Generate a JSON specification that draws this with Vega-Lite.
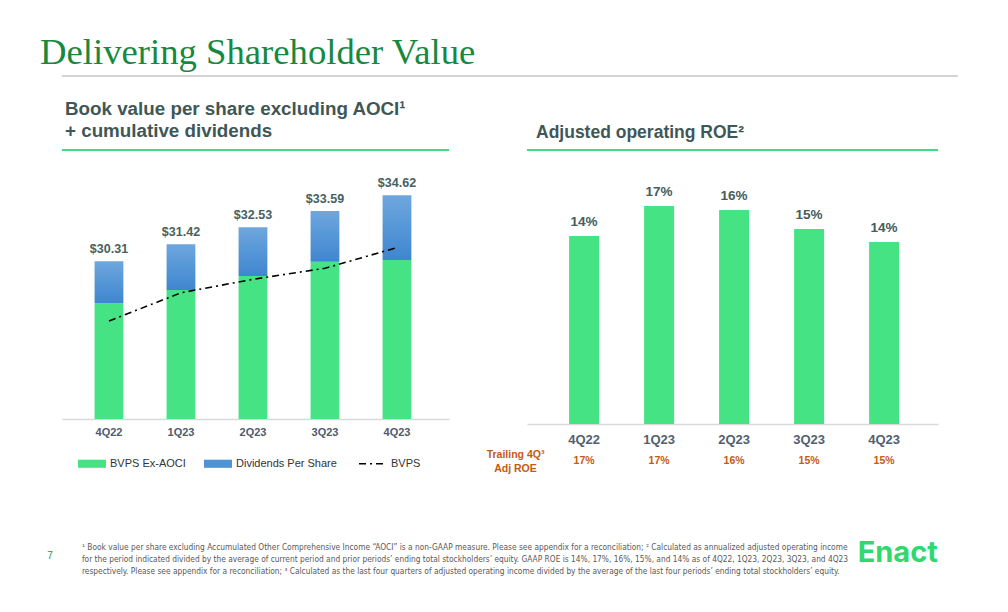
{
  "$schema": "https://vega.github.io/schema/vega-lite/v6.json",
  "background": "white",
  "padding": {"left": 40, "top": 35, "right": 10, "bottom": 5},
  "config": {"view": {"stroke": null}, "font": "Liberation Sans"},
  "title": {"text": "Delivering Shareholder Value", "anchor": "start", "frame": "group", "dx": -22, "font": "Liberation Serif", "fontSize": 36.7, "fontWeight": "normal", "color": "#17893f", "offset": 3},
  "datasets": {
    "bvps": [
      {"q": "4Q22", "exaoci": 27.56, "total": 30.31, "bvps": 26.4},
      {"q": "1Q23", "exaoci": 28.43, "total": 31.42, "bvps": 28.25},
      {"q": "2Q23", "exaoci": 29.35, "total": 32.53, "bvps": 29.13},
      {"q": "3Q23", "exaoci": 30.28, "total": 33.59, "bvps": 29.85},
      {"q": "4Q23", "exaoci": 30.39, "total": 34.62, "bvps": 31.2}
    ],
    "roe": [
      {"q": "4Q22", "roe": 0.1435, "trailing": 0.17},
      {"q": "1Q23", "roe": 0.1664, "trailing": 0.17},
      {"q": "2Q23", "roe": 0.1634, "trailing": 0.16},
      {"q": "3Q23", "roe": 0.1489, "trailing": 0.15},
      {"q": "4Q23", "roe": 0.1389, "trailing": 0.15}
    ],
    "notes": [
      {"line": 1, "text": "¹ Book value per share excluding Accumulated Other Comprehensive Income “AOCI” is a non-GAAP measure. Please see appendix for a reconciliation; ² Calculated as annualized adjusted operating income"},
      {"line": 2, "text": "for the period indicated divided by the average of current period and prior periods’ ending total stockholders’ equity. GAAP ROE is 14%, 17%, 16%, 15%, and 14% as of 4Q22, 1Q23, 2Q23, 3Q23, and 4Q23"},
      {"line": 3, "text": "respectively. Please see appendix for a reconciliation; ³ Calculated as the last four quarters of adjusted operating income divided by the average of the last four periods’ ending total stockholders’ equity."}
    ]
  },
  "spacing": 64,
  "resolve": {"scale": {"color": "independent"}, "legend": {"color": "independent"}},
  "vconcat": [
    {
      "spacing": 23,
      "resolve": {"scale": {"color": "independent"}, "legend": {"color": "independent"}},
      "vconcat": [
        {
          "width": 896, "height": 1,
          "data": {"values": [{}]},
          "mark": {"type": "rule", "color": "#d4d4d4", "strokeWidth": 2},
          "encoding": {"y": {"datum": 0, "type": "quantitative", "scale": {"domain": [0, 1]}, "axis": null}}
        },
        {
          "spacing": 78,
          "bounds": "flush",
          "resolve": {"scale": {"color": "independent"}, "legend": {"color": "independent"}},
          "hconcat": [
            {
              "width": 387, "height": 269,
              "title": {"text": ["Book value per share excluding AOCI¹", "+ cumulative dividends"], "anchor": "start", "frame": "group", "dx": 3, "fontSize": 18.8, "fontWeight": "bold", "color": "#3f5757", "lineHeight": 22, "offset": 8},
              "data": {"name": "bvps"},
              "layer": [
                {
                  "mark": {"type": "bar", "color": "#45e383"},
                  "encoding": {
                    "x": {"field": "q", "type": "nominal", "sort": null,
                      "scale": {"paddingInner": 0.6, "paddingOuter": 0.4875, "align": 0.464},
                      "axis": {"title": null, "labelAngle": 0, "ticks": false, "labelPadding": 7, "labelFontSize": 11, "labelFontWeight": "bold", "labelColor": "#4e5b70", "domainColor": "#d9d9d9", "domainWidth": 1.5}},
                    "y": {"field": "exaoci", "type": "quantitative", "scale": {"domain": [20, 37.58], "zero": false, "nice": false}, "axis": null},
                    "y2": {"datum": 20},
                    "color": {"datum": "BVPS Ex-AOCI", "type": "nominal",
                      "scale": {"domain": ["BVPS Ex-AOCI", "Dividends Per Share", "BVPS"], "range": ["#45e383", "#4f93d6", "#000000"]},
                      "legend": {
                        "title": null, "orient": "none", "direction": "horizontal", "legendX": 16, "legendY": 308,
                        "labelFont": "Liberation Sans", "labelFontSize": 11, "labelColor": "#333333",
                        "symbolSize": 784, "columnPadding": 18,
                        "encode": {
                          "symbols": {"update": {
                            "x": {"value": 14},
                            "shape": {"signal": "datum.value === 'BVPS' ? 'stroke' : 'M-1,-0.29H1V0.29H-1Z'"},
                            "size": {"value": 784},
                            "fill": {"signal": "datum.value === 'BVPS' ? 'transparent' : (datum.value === 'BVPS Ex-AOCI' ? '#45e383' : '#4f93d6')"},
                            "stroke": {"signal": "datum.value === 'BVPS' ? '#000000' : 'transparent'"},
                            "strokeWidth": {"signal": "datum.value === 'BVPS' ? 1.6 : 0"},
                            "strokeDash": {"signal": "datum.value === 'BVPS' ? [7,4,2,4] : []"}
                          }},
                          "labels": {"update": {"x": {"value": 32}}}
                        }
                      }
                    }
                  }
                },
                {
                  "mark": {"type": "bar", "fill": {"gradient": "linear", "x1": 0, "y1": 0, "x2": 0, "y2": 1, "stops": [{"offset": 0, "color": "#6ea7de"}, {"offset": 1, "color": "#3f86cf"}]}},
                  "encoding": {
                    "x": {"field": "q", "type": "nominal", "sort": null},
                    "y": {"field": "total", "type": "quantitative"},
                    "y2": {"field": "exaoci"}
                  }
                },
                {
                  "mark": {"type": "line", "strokeWidth": 1.6, "strokeDash": [7, 4, 2, 4]},
                  "encoding": {
                    "x": {"field": "q", "type": "nominal", "sort": null},
                    "y": {"field": "bvps", "type": "quantitative"},
                    "color": {"datum": "BVPS", "type": "nominal"}
                  }
                },
                {
                  "mark": {"type": "text", "dy": -12, "fontSize": 12.5, "fontWeight": "bold", "color": "#466160"},
                  "encoding": {
                    "x": {"field": "q", "type": "nominal", "sort": null},
                    "y": {"field": "total", "type": "quantitative"},
                    "text": {"field": "total", "type": "quantitative", "format": "$.2f"}
                  }
                },
                {
                  "mark": {"type": "rule", "color": "#3fdc86", "strokeWidth": 2},
                  "encoding": {"y": {"datum": 37.58, "type": "quantitative"}}
                }
              ]
            },
            {
              "width": 411, "height": 274,
              "title": {"text": "Adjusted operating ROE²", "anchor": "start", "frame": "group", "dx": 9, "fontSize": 17.5, "fontWeight": "bold", "color": "#3f5757", "offset": 8},
              "data": {"name": "roe"},
              "layer": [
                {
                  "mark": {"type": "bar", "color": "#45e383"},
                  "encoding": {
                    "x": {"field": "q", "type": "nominal", "sort": null,
                      "scale": {"paddingInner": 0.6, "paddingOuter": 0.54, "align": 0.52},
                      "axis": {"title": null, "labelAngle": 0, "ticks": false, "labelPadding": 9, "labelFontSize": 13, "labelFontWeight": "bold", "labelColor": "#535f70", "domainColor": "#d9d9d9", "domainWidth": 1.5}},
                    "y": {"field": "roe", "type": "quantitative", "scale": {"domain": [0, 0.2092], "nice": false},
                      "axis": {"title": ["Trailing 4Q³", "Adj ROE"], "labels": false, "ticks": false, "domain": false, "grid": false,
                        "titleAngle": 0, "titleAlign": "center", "titleBaseline": "middle", "titleX": -12, "titleY": 304,
                        "titleColor": "#c55a11", "titleFontSize": 10.5, "titleFontWeight": "bold", "titleLineHeight": 14}}
                  }
                },
                {
                  "mark": {"type": "text", "dy": -14, "fontSize": 13.5, "fontWeight": "bold", "color": "#475c5c"},
                  "encoding": {
                    "x": {"field": "q", "type": "nominal", "sort": null},
                    "y": {"field": "roe", "type": "quantitative"},
                    "text": {"field": "roe", "type": "quantitative", "format": ".0%"}
                  }
                },
                {
                  "mark": {"type": "text", "fontSize": 10.5, "fontWeight": "bold", "color": "#c55a11", "baseline": "middle"},
                  "encoding": {
                    "x": {"field": "q", "type": "nominal", "sort": null},
                    "y": {"datum": -0.0282, "type": "quantitative"},
                    "text": {"field": "trailing", "type": "quantitative", "format": ".0%"}
                  }
                },
                {
                  "mark": {"type": "rule", "color": "#3fdc86", "strokeWidth": 2},
                  "encoding": {"y": {"datum": 0.2092, "type": "quantitative"}}
                }
              ]
            }
          ]
        }
      ]
    },
    {
      "width": 896, "height": 24,
      "layer": [
        {
          "data": {"name": "notes"},
          "mark": {"type": "text", "align": "left", "baseline": "middle", "font": "DejaVu Sans Condensed, Liberation Sans", "fontSize": 8.3, "color": "#595959"},
          "encoding": {
            "x": {"datum": 0.0223, "type": "quantitative", "scale": {"domain": [0, 1]}, "axis": null},
            "y": {"field": "line", "type": "quantitative", "scale": {"domain": [1, 3], "reverse": true}, "axis": null},
            "text": {"field": "text"}
          }
        },
        {
          "data": {"values": [{"t": "7"}]},
          "mark": {"type": "text", "baseline": "middle", "fontSize": 10, "color": "#1e9650"},
          "encoding": {
            "x": {"datum": -0.0134, "type": "quantitative"},
            "y": {"datum": 1.7, "type": "quantitative"},
            "text": {"field": "t"}
          }
        },
        {
          "data": {"values": [{"t": "Enact"}]},
          "mark": {"type": "text", "align": "left", "baseline": "middle", "font": "Inter", "fontWeight": "bold", "fontSize": 29, "color": "#2fd970"},
          "encoding": {
            "x": {"datum": 0.888, "type": "quantitative"},
            "y": {"datum": 1.4, "type": "quantitative"},
            "text": {"field": "t"}
          }
        }
      ]
    }
  ]
}
